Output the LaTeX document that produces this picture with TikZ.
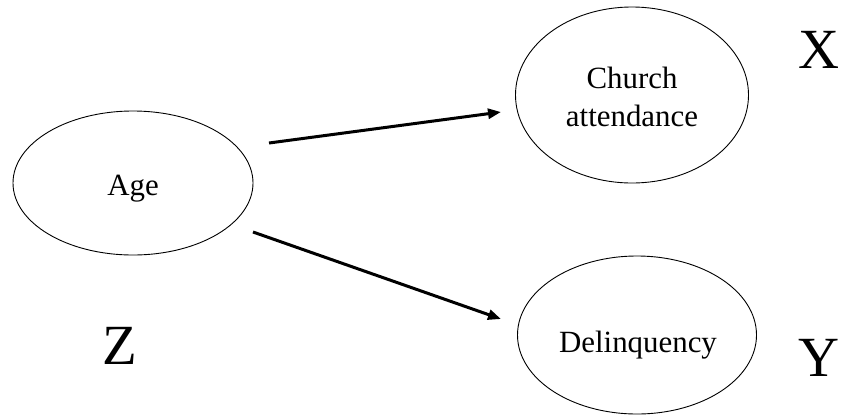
\documentclass[tikz,border=0pt]{standalone}
\usepackage{fontspec}
\setmainfont{Liberation Serif}
\usetikzlibrary{shapes.geometric,arrows.meta,calc}
\tikzset{
  var/.style={ellipse,draw=black,line width=0.9bp,inner sep=0pt},
  vartext/.style={inner sep=0pt,anchor=base,font=\fontsize{31}{38}\selectfont},
  arr/.style={line width=3bp,-{Triangle[length=13bp,width=10bp]}},
  biglabel/.style={inner sep=0pt,font=\fontsize{57}{60}\selectfont}
}
\begin{document}
\begin{tikzpicture}[x=1bp,y=-1bp]
\useasboundingbox (0,0) rectangle (846,415);
\node[var,minimum width=240bp,minimum height=144bp] (age) at (133,183) {};
\node[var,minimum width=233bp,minimum height=176bp] (church) at (632,95) {};
\node[var,minimum width=239bp,minimum height=158bp] (delinq) at (637,335) {};
\node[vartext] (agetext) at (133,195) {Age};
\node[vartext] (churchtext1) at (632,88) {Church};
\node[vartext] (churchtext2) at (632,126) {attendance};
\node[vartext] (delinqtext) at (638,352) {Delinquency};
\node[biglabel] (xl) at (819,49.5) {X};
\node[biglabel] (yl) at (819,358) {Y};
\node[biglabel] (zl) at (120,346) {Z};
\draw[arr] ($(age.center)+(136,-40)$) -- ($(church.center)+(-131,17)$);
\draw[arr] ($(age.center)+(120,49)$) -- ($(delinq.center)+(-136,-16)$);
\end{tikzpicture}
\end{document}
